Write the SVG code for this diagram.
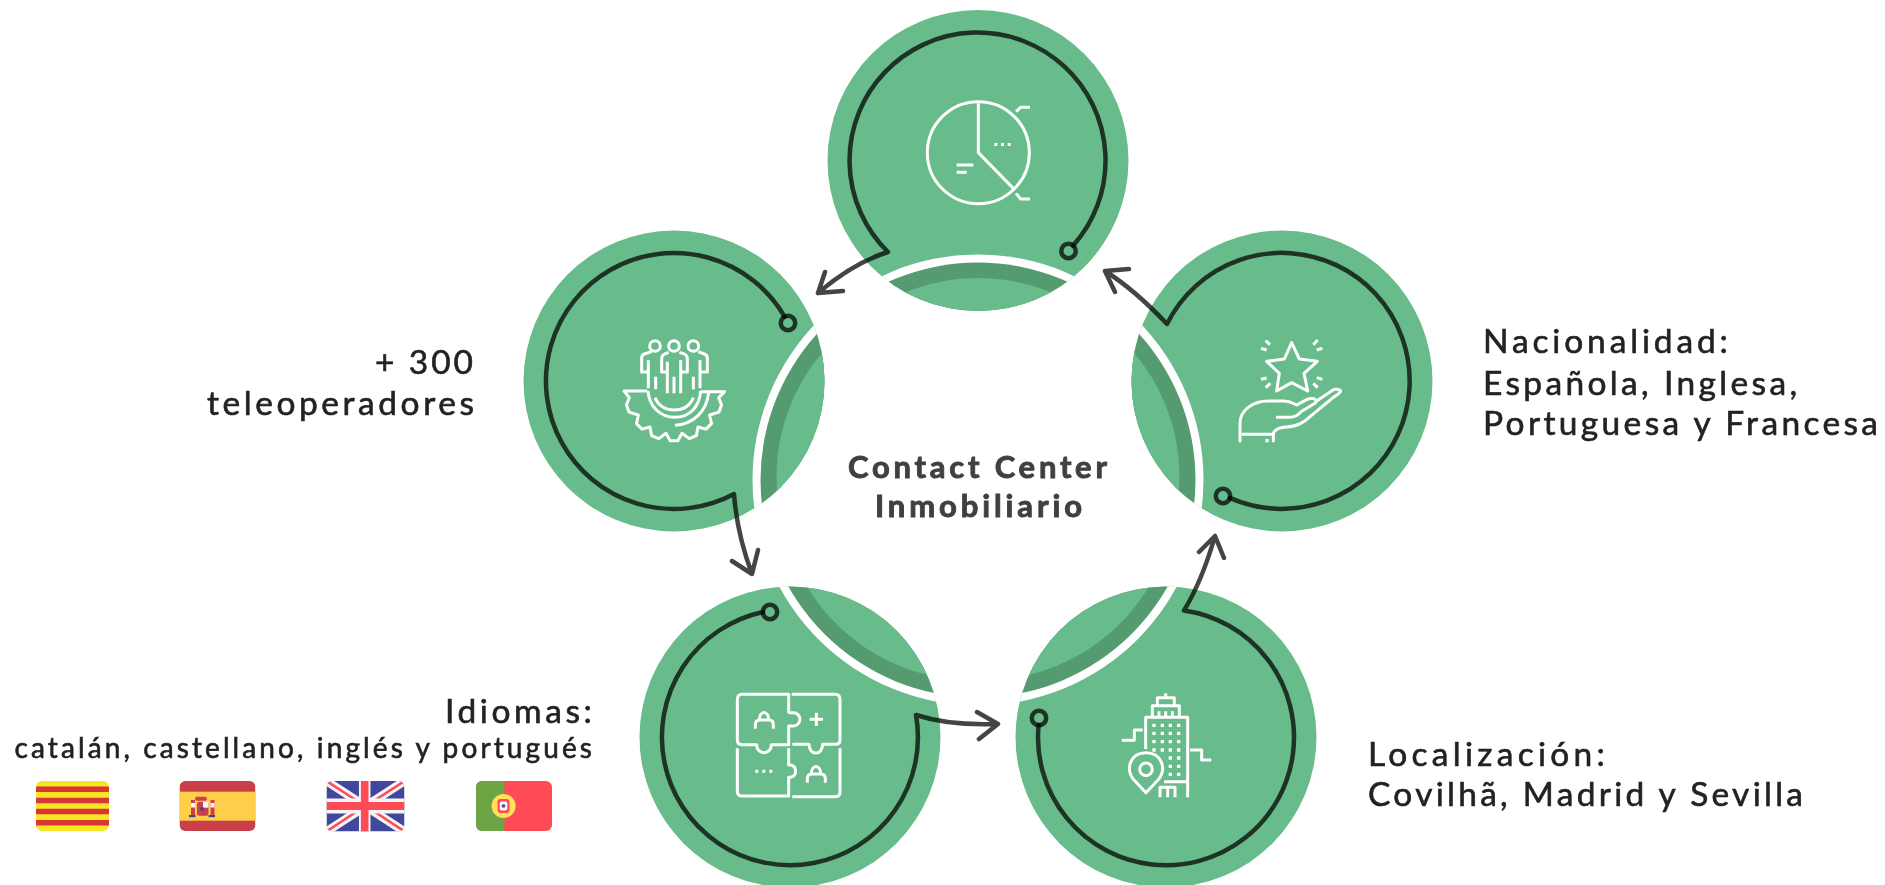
<svg xmlns="http://www.w3.org/2000/svg" width="1885" height="885" viewBox="0 0 1885 885">
<style>
.g{fill:#68bb8a}.w{fill:#fff}.d{fill:#559b70}
.i{fill:none;stroke:#fff;stroke-width:9;stroke-linejoin:round;stroke-linecap:butt}
.f{fill:#fff}
.c{fill:none;stroke:#454545;stroke-width:4.500;stroke-linejoin:round;stroke-linecap:round;mix-blend-mode:multiply}
text{font-family:"Lato","Noto Sans",sans-serif;fill:#222;font-size:33.500px;stroke:#222;stroke-width:.6}
.b{font-weight:700;fill:#404040;stroke:#404040;stroke-width:.9;font-size:31px}
</style>
<defs>
<clipPath id="ct"><circle cx="978" cy="160.500" r="150.500"/></clipPath>
<clipPath id="cl"><circle cx="674" cy="381" r="150.500"/></clipPath>
<clipPath id="cr"><circle cx="1282" cy="381" r="150.500"/></clipPath>
<clipPath id="cb"><circle cx="790" cy="737" r="150.500"/></clipPath>
<clipPath id="cs"><circle cx="1166" cy="737" r="150.500"/></clipPath>
<clipPath id="fa"><rect x="36" y="781" width="73" height="50" rx="6"/></clipPath>
<clipPath id="fe"><rect x="179.500" y="781" width="76" height="50" rx="6"/></clipPath>
<clipPath id="fu"><rect x="326.500" y="781" width="78" height="50.500" rx="6"/></clipPath>
<clipPath id="fp"><rect x="476" y="781" width="76" height="50" rx="6"/></clipPath>
</defs>

<g id="node-top">
<g clip-path="url(#ct)"><rect class="g" x="820" y="0" width="320" height="320"/><circle class="w" cx="978" cy="480" r="225.500"/><circle class="d" cx="978" cy="480" r="217.500"/><circle class="g" cx="978" cy="470" r="192"/></g>
<g transform="translate(810,0) scale(.33333)">
<circle class="i" cx="505" cy="458" r="153"/>
<path class="i" d="M505,310V458L610,565M618,335L632,322H660M618,580L632,597H660M440,495H490M440,517H470"/>
<path class="f" d="M553,429h9v9h-9zM573,429h9v9h-9zM593,429h9v9h-9z"/>
</g>
</g>

<g id="node-left">
<g clip-path="url(#cl)"><rect class="g" x="520" y="225" width="310" height="310"/><circle class="w" cx="978" cy="480" r="225.500"/><circle class="d" cx="978" cy="480" r="217.500"/><circle class="g" cx="968.500" cy="477" r="192"/></g>
<g transform="translate(510,220) scale(.33333)">
<circle class="i" cx="435" cy="378" r="16"/><circle class="i" cx="492" cy="378" r="16"/><circle class="i" cx="550" cy="378" r="16"/>
<path class="i" d="M425,395L403,402Q395,405 395,414V456H415M415,420V505M437,470V508"/>
<path class="i" d="M476,397L464,402Q455,406 455,416V456H472M472,425V520M508,397L523,402Q532,406 532,416V456H512M512,420V520M492,470V520"/>
<path class="i" d="M565,395L583,402Q592,405 592,414V456H570M570,420V505M550,470V508"/>
<path class="i" d="M412,513H342L358,533L349.400,554.600L357.300,576.400L385,585L379.500,611L396,627.500L420,621L424.800,646.900L446.300,655.800L468,640L480.400,662.500H503.600L516,640L537.700,655.800L559.200,646.900L564,621L588,627.500L604.500,611L599,585L626.700,576.400L634.600,554.600L626,533L644,515H572"/>
<path class="i" d="M414,513C418,560 450,592 495,592C540,592 568,560 572,513M435,533C445,558 468,570 492,570C518,570 540,558 550,533M495,616C550,612 590,575 596,517"/>
</g>
</g>

<g id="node-right">
<g clip-path="url(#cr)"><rect class="g" x="1125" y="225" width="315" height="310"/><circle class="w" cx="978" cy="480" r="225.500"/><circle class="d" cx="978" cy="480" r="217.500"/><circle class="g" cx="987.500" cy="477" r="192"/></g>
<g transform="translate(1120,220) scale(.33333)">
<path class="i" d="M515,368L538,417L592,424L552,460L563,513L515,488L470,513L478,460L440,424L493,417Z"/>
<path class="i" d="M437,362L450,374M423,385L440,390M593,360L580,374M607,385L590,390M423,478L440,474M437,503L451,490M607,478L590,473M593,503L580,490"/>
<path class="i" d="M360,667V610C360,570 400,543 445,543H490C510,543 520,550 530,555L560,539C572,533 585,535 588,541C590,547 585,550 575,556L545,574C535,585 525,592 510,592H468"/>
<path class="i" d="M590,543L640,509C650,505 662,510 662,514C660,520 650,525 640,532L570,590C550,610 530,620 490,622C470,625 460,632 460,645V667M365,643H460"/>
<path class="f" d="M436,657h10v10h-10z"/>
</g>
</g>

<g id="node-bottom-left">
<g clip-path="url(#cb)"><rect class="g" x="635" y="580" width="310" height="310"/><circle class="w" cx="978" cy="480" r="225.500"/><circle class="d" cx="978" cy="480" r="217.500"/><circle class="g" cx="972" cy="488" r="192"/></g>
<g transform="translate(630,570) scale(.33333)">
<path class="i" d="M476,430V373H337Q322,373 322,388V510Q322,524 337,524H380C380,556 424,556 424,524H476V468H490A20,20 0 0 0 490,428H476"/>
<path class="i" d="M485,373H615Q630,373 630,388V510Q630,523 617,523H578C578,558 537,558 537,523H487"/>
<path class="i" d="M322,535V665Q322,678 337,678H476V622H482A19,19 0 0 0 482,585H476V535"/>
<path class="i" d="M630,535V665Q630,680 615,680H487"/>
<path class="i" d="M376,476V464Q376,450 390,450H416Q430,450 430,464V476M388,450C388,420 416,420 416,450"/>
<path class="i" d="M532,638V626Q532,612 546,612H572Q586,612 586,626V638M544,612C544,582 572,582 572,612"/>
<path class="i" d="M539,448H579M559,428V468"/>
<path class="f" d="M376,599h9v9h-9zM397,599h9v9h-9zM418,599h9v9h-9z"/>
</g>
</g>

<g id="node-bottom-right">
<g clip-path="url(#cs)"><rect class="g" x="1010" y="580" width="310" height="310"/><circle class="w" cx="978" cy="480" r="225.500"/><circle class="d" cx="978" cy="480" r="217.500"/><circle class="g" cx="984" cy="488" r="192"/></g>
<g transform="translate(1000,570) scale(.33333)">
<path class="i" d="M437,537V442H563V682M457,440V407H538V440M472,405V383H523V405M497,383V370M477,424V438M497,424V438M517,424V438"/>
<path class="i" d="M365,511H403V480H428M570,540H605V570H634M492,635H563M480,682V652H525V682M503,655V682"/>
<path class="i" d="M438,668L400,628C375,595 392,548 438,548C484,548 501,595 476,628Z"/>
<circle class="i" cx="438" cy="598" r="19"/>
<path class="f" d="M457,461h10v10h-10zM482,461h10v10h-10zM506,461h10v10h-10zM531,461h10v10h-10zM457,485h10v10h-10zM482,485h10v10h-10zM506,485h10v10h-10zM531,485h10v10h-10zM457,510h10v10h-10zM482,510h10v10h-10zM506,510h10v10h-10zM531,510h10v10h-10zM457,535h10v10h-10zM482,535h10v10h-10zM506,535h10v10h-10zM531,535h10v10h-10zM506,559h10v10h-10zM531,559h10v10h-10zM506,584h10v10h-10zM531,584h10v10h-10zM506,608h10v10h-10zM531,608h10v10h-10z"/>
</g>
</g>

<g id="connectors">
<path class="c" d="M1073,245.800A128,128 0 1 0 888,252Q853,263 818,293M825,272L818,293L843,291"/>
<circle class="c" cx="1068.500" cy="251" r="7.200"/>
<path class="c" d="M784.700,316.800A128,128 0 1 0 734,494Q737,534 752,574M732,561L752,574L758,550"/>
<circle class="c" cx="788" cy="323" r="7.200"/>
<path class="c" d="M763,612A128,128 0 1 0 916,715Q950,726 998,724M977,712L998,724L979,739"/>
<circle class="c" cx="770" cy="612" r="7.200"/>
<path class="c" d="M1038.600,725A128,128 0 1 0 1184,610.500Q1202,581 1215,536M1199,552L1215,536L1224,558"/>
<circle class="c" cx="1039" cy="718" r="7.200"/>
<path class="c" d="M1229.800,497.900A128,128 0 1 0 1167,324Q1135,290 1105,271M1129,269L1105,271L1115,292"/>
<circle class="c" cx="1223" cy="496" r="7.200"/>
</g>

<g id="label-center">
<text class="b" x="848" y="478" textLength="259">Contact Center</text>
<text class="b" x="875" y="517" textLength="207">Inmobiliario</text>
</g>
<g id="label-left">
<text x="375" y="374" textLength="98">+ 300</text>
<text x="207" y="415" textLength="267">teleoperadores</text>
</g>
<g id="label-right">
<text x="1483" y="353" textLength="245">Nacionalidad:</text>
<text x="1483" y="395" textLength="314">Española, Inglesa,</text>
<text x="1483" y="435" textLength="395">Portuguesa y Francesa</text>
</g>
<g id="label-bottom-right">
<text x="1368" y="766" textLength="237">Localización:</text>
<text x="1368" y="806" textLength="435">Covilhã, Madrid y Sevilla</text>
</g>
<g id="label-idiomas">
<text x="445" y="723" textLength="147">Idiomas:</text>
<text x="14.500" y="758" style="font-size:28px" textLength="577.500">catalán, castellano, inglés y portugués</text>
</g>

<g id="flag-catalonia" clip-path="url(#fa)">
<rect x="36" y="781" width="73" height="50" fill="#f7e623"/>
<path fill="#d93636" d="M36,786.600h73v5.500h-73zM36,797.700h73v5.500h-73zM36,808.800h73v5.500h-73zM36,819.900h73v5.500h-73z"/>
</g>
<g id="flag-spain">
<g clip-path="url(#fe)">
<rect x="179.500" y="781" width="76" height="50" fill="#c9404b"/>
<rect x="179.500" y="791.700" width="76" height="29" fill="#ffcf4a"/>
</g>
<rect x="195" y="796.700" width="12" height="4" rx="2" fill="#c9404b"/>
<rect x="197" y="801.700" width="11.500" height="14" rx="2" fill="#c9404b"/>
<rect x="203" y="801.700" width="5.500" height="6" fill="#f5f5f5"/>
<rect x="191" y="800" width="4" height="15" fill="#c9404b"/><rect x="191" y="803" width="4" height="4.500" fill="#f5f5f5"/>
<rect x="210.500" y="800" width="4" height="15" fill="#c9404b"/><rect x="210.500" y="803" width="4" height="4.500" fill="#f5f5f5"/>
<rect x="189" y="815" width="6.500" height="2.200" fill="#41479b"/><rect x="208.500" y="815" width="6.500" height="2.200" fill="#41479b"/>
<circle cx="202" cy="809" r="2" fill="#41479b"/>
</g>
<g id="flag-uk" clip-path="url(#fu)">
<rect x="326.500" y="781" width="78" height="50.500" fill="#41479b"/>
<path stroke="#f5f5f5" stroke-width="8.500" d="M326.500,781L404.500,831.500M404.500,781L326.500,831.500"/>
<path stroke="#ff4b55" stroke-width="2.500" d="M326.500,781L365,806M404.500,781L366,806M326.500,831.500L365,806M404.500,831.500L366,806"/>
<path stroke="#f5f5f5" stroke-width="15" d="M326.500,806H404.500"/>
<path stroke="#f5f5f5" stroke-width="11.500" d="M364.700,781V831.500"/>
<path stroke="#ff4b55" stroke-width="8" d="M326.500,806H404.500"/>
<path stroke="#ff4b55" stroke-width="7.600" d="M364.700,781V831.500"/>
</g>
<g id="flag-portugal">
<g clip-path="url(#fp)">
<rect x="476" y="781" width="76" height="50" fill="#ff4b55"/>
<rect x="476" y="781" width="28.400" height="50" fill="#6da544"/>
</g>
<circle cx="503.600" cy="806" r="12" fill="#ffe15a"/>
<rect x="497.500" y="799" width="12" height="14" rx="3" fill="#ff4b55"/>
<rect x="499.700" y="801.500" width="7.600" height="9" rx="2" fill="#f5f5f5"/>
<circle cx="503.500" cy="806" r="1.800" fill="#41479b"/>
</g>
</svg>
